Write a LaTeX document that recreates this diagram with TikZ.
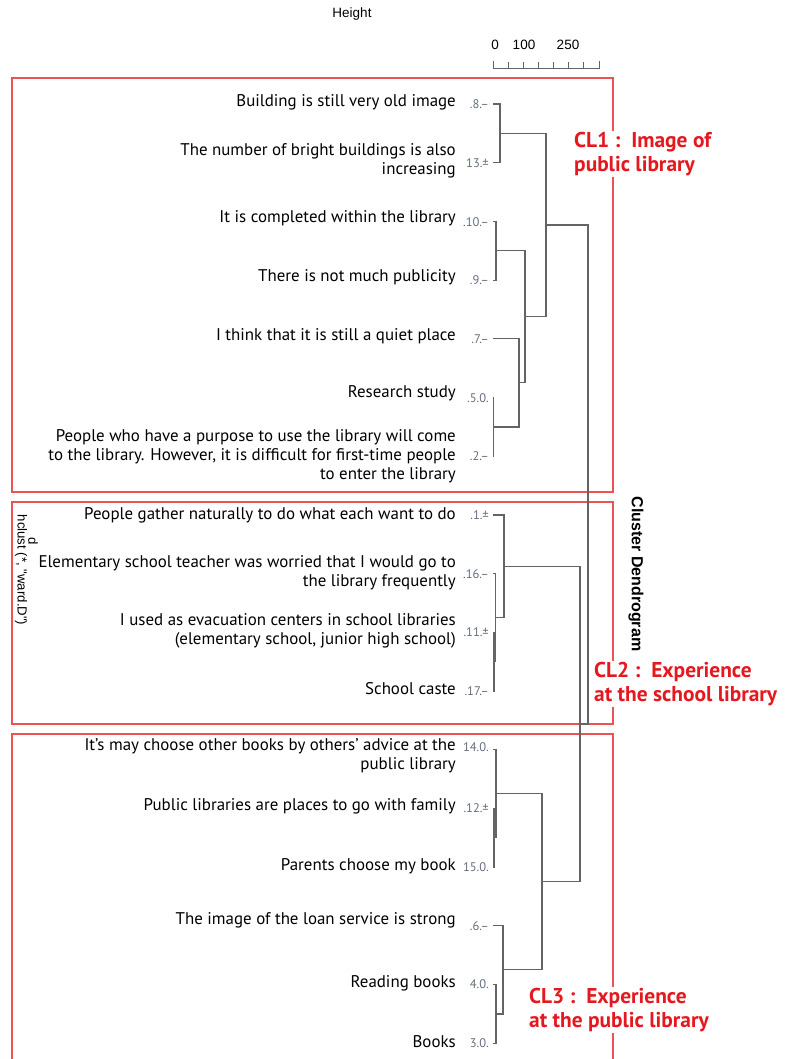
\documentclass[tikz,border=0pt]{standalone}
\usepackage{fontspec}
\setmainfont{PT Sans}
\newfontfamily\rfont{Liberation Sans}
\definecolor{boxred}{RGB}{236,84,84}
\definecolor{labred}{RGB}{228,24,30}
\definecolor{treegray}{RGB}{100,100,100}
\definecolor{idgray}{RGB}{100,110,125}
\begin{document}
\begin{tikzpicture}[x=1pt,y=-1pt,
  leaf/.style={anchor=east,align=right,inner sep=0pt,
    font=\fontsize{16.9}{19}\selectfont},
  leafid/.style={anchor=east,inner sep=0pt,text=idgray,
    font=\fontsize{12.5}{13}\selectfont},
  branch/.style={draw=treegray,line width=1.2pt},
  clbox/.style={draw=boxred,line width=1.3pt},
  cllabel/.style={anchor=north west,align=left,fill=white,inner sep=1pt,
    text=labred,font=\fontsize{21.4}{24}\selectfont\bfseries},
  axistext/.style={inner sep=0pt,font=\rfont\fontsize{13.5}{15}\selectfont}]
  \useasboundingbox (0,0) rectangle (787,1059);

  % cluster boxes
  \draw[clbox] (12,78) rectangle (613,492);
  \draw[clbox] (12,502) rectangle (613,724);
  \draw[clbox] (12,1059) -- (12,734) -- (613,734) -- (613,1059);

  % titles and axis
  \node[axistext] (ytitle) at (352,14) {Height};
  \node[axistext] (tick0) at (495,45) {0};
  \node[axistext] (tick100) at (524,45) {100};
  \node[axistext] (tick250) at (568,45) {250};
  \draw[treegray,line width=0.8pt] (493,61) -- (493,68) -- (599,68) -- (599,61);
  \foreach \tx in {508,523,538,553,568,583}
    \draw[treegray,line width=0.8pt] (\tx,62) -- (\tx,68);
  \node[rotate=-90,font=\rfont\fontsize{16}{18}\selectfont\bfseries]
    (maintitle) at (636,574) {Cluster Dendrogram};
  \node[rotate=-90,inner sep=0pt,font=\rfont\fontsize{13.2}{15}\selectfont]
    (subtitle) at (21,570) {hclust (*, "ward.D")};
  \node[rotate=-90,inner sep=0pt,font=\rfont\fontsize{13.2}{15}\selectfont]
    (xtitle) at (33,541) {d};

  % leaf texts
  \node[leaf] (t8) at (456,102) {Building is still very old image};
  \node[leaf] (t13) at (456,161) {The number of bright buildings is also\\increasing};
  \node[leaf] (t10) at (456,218) {It is completed within the library};
  \node[leaf] (t9) at (456,277) {There is not much publicity};
  \node[leaf] (t7) at (456,336) {I think that it is still a quiet place};
  \node[leaf] (t5) at (456,393) {Research study};
  \node[leaf] (t2) at (456,456) {People who have a purpose to use the library will come\\
    to the library. However, it is difficult for first-time people\\to enter the library};
  \node[leaf] (t1) at (456,515) {People gather naturally to do what each want to do};
  \node[leaf] (t16) at (456,573) {Elementary school teacher was worried that I would go to\\the library frequently};
  \node[leaf] (t11) at (456,631) {I used as evacuation centers in school libraries\\(elementary school, junior high school)};
  \node[leaf] (t17) at (456,689) {School caste};
  \node[leaf] (t14) at (456,756) {It's may choose other books by others' advice at the\\public library};
  \node[leaf] (t12) at (456,806) {Public libraries are places to go with family};
  \node[leaf] (t15) at (456,866) {Parents choose my book};
  \node[leaf] (t6) at (456,920) {The image of the loan service is strong};
  \node[leaf] (t4) at (456,983) {Reading books};
  \node[leaf] (t3) at (456,1042) {Books};

  % leaf ids
  \node[leafid] (n8) at (489,104) {.8.–};
  \node[leafid] (n13) at (489,163) {13.±};
  \node[leafid] (n10) at (489,222) {.10.–};
  \node[leafid] (n9) at (489,280) {.9.–};
  \node[leafid] (n7) at (489,339) {.7.–};
  \node[leafid] (n5) at (489,398) {.5.0.};
  \node[leafid] (n2) at (489,456) {.2.–};
  \node[leafid] (n1) at (489,515) {.1.±};
  \node[leafid] (n16) at (489,574) {.16.–};
  \node[leafid] (n11) at (489,632) {.11.±};
  \node[leafid] (n17) at (489,691) {.17.–};
  \node[leafid] (n14) at (489,747) {14.0.};
  \node[leafid] (n12) at (489,808) {.12.±};
  \node[leafid] (n15) at (489,867) {15.0.};
  \node[leafid] (n6) at (489,926) {.6.–};
  \node[leafid] (n4) at (489,984) {4.0.};
  \node[leafid] (n3) at (489,1043) {3.0.};

  % leaf tips
  \coordinate (l8) at (493,104);
  \coordinate (l13) at (493,162.7);
  \coordinate (l10) at (493,221.4);
  \coordinate (l9) at (493,280.1);
  \coordinate (l7) at (493,338.8);
  \coordinate (l5) at (493,397.5);
  \coordinate (l2) at (493,456.2);
  \coordinate (l1) at (493,514.9);
  \coordinate (l16) at (493,573.6);
  \coordinate (l11) at (493,632.3);
  \coordinate (l17) at (493,691);
  \coordinate (l14) at (493,749.7);
  \coordinate (l12) at (493,808.4);
  \coordinate (l15) at (493,867.1);
  \coordinate (l6) at (493,925.8);
  \coordinate (l4) at (493,984.5);
  \coordinate (l3) at (493,1043.2);

  % merge points
  \coordinate (m813) at (500,133.4);
  \coordinate (m109) at (496,250.8);
  \coordinate (m52) at (493.6,426.9);
  \coordinate (m752) at (519,382.8);
  \coordinate (m10952) at (525,316.8);
  \coordinate (mcl1) at (546,225.1);
  \coordinate (m1117) at (494,661.7);
  \coordinate (m1617) at (495.2,617.6);
  \coordinate (mcl2) at (504,566.3);
  \coordinate (m1215) at (494,837.8);
  \coordinate (m1415) at (496,793.7);
  \coordinate (m43) at (496,1013.9);
  \coordinate (m643) at (503,969.8);
  \coordinate (mcl3) at (542,881.8);
  \coordinate (mcl23) at (580,724);
  \coordinate (mroot) at (588,474.6);

  % CL1 branches
  \draw[branch] (l8) -| (m813) |- (l13);
  \draw[branch] (l10) -| (m109) |- (l9);
  \draw[branch] (l5) -| (m52) |- (l2);
  \draw[branch] (l7) -| (m752) |- (m52);
  \draw[branch] (m109) -| (m10952) |- (m752);
  \draw[branch] (m813) -| (mcl1) |- (m10952);
  % CL2 branches
  \draw[branch] (l11) -| (m1117) |- (l17);
  \draw[branch] (l16) -| (m1617) |- (m1117);
  \draw[branch] (l1) -| (mcl2) |- (m1617);
  % CL3 branches
  \draw[branch] (l12) -| (m1215) |- (l15);
  \draw[branch] (l14) -| (m1415) |- (m1215);
  \draw[branch] (l4) -| (m43) |- (l3);
  \draw[branch] (l6) -| (m643) |- (m43);
  \draw[branch] (m1415) -| (mcl3) |- (m643);
  % top levels
  \draw[branch] (mcl2) -| (mcl23) |- (mcl3);
  \draw[branch] (mcl1) -| (mroot) |- (mcl23);

  % cluster labels
  \node[cllabel] (cl1) at (573,131) {CL1 :\ \ Image of\\public library};
  \node[cllabel] (cl2) at (593,661) {CL2 :\ \ Experience\\at the school library};
  \node[cllabel] (cl3) at (528,987) {CL3 :\ \ Experience\\at the public library};
\end{tikzpicture}
\end{document}
